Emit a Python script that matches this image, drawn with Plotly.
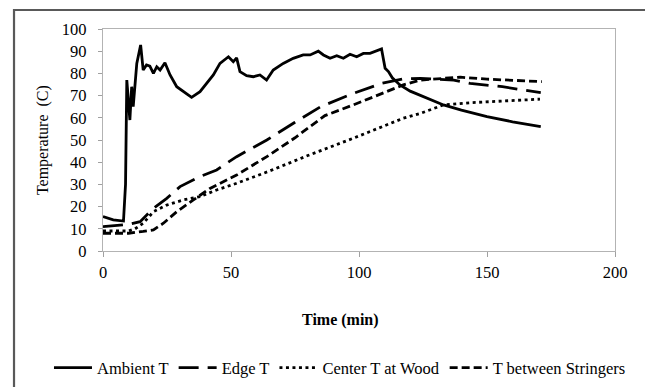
import plotly.graph_objects as go

# ---- data ----
amb_t = [0, 4, 8, 8.8, 9.3, 10.5, 11.2, 11.8, 13.2, 14.7, 15.7, 17, 18.3, 19.7, 21, 22.3, 24.2,
         26.2, 28.8, 31.4, 34.6, 37.9, 40.5, 43.1, 45.7, 49, 50.9, 52.2, 53.5, 56.1, 58.7, 61.3,
         63.9, 66.5, 70.4, 74.3, 78.2, 80.9, 84.1, 86.1, 88.7, 91.3, 93.9, 96.5, 99.1, 101.7,
         104.3, 106.9, 108.8, 110.2, 111.5, 113, 116, 120, 125, 133, 140, 150, 160, 171]
amb_v = [15.5, 14, 13.5, 30, 77, 59, 74, 65, 84.5, 92.8, 81.5, 83.8, 83.3, 80, 83, 81.5, 84.8,
         79.3, 74, 71.8, 69.2, 71.8, 75.5, 79.3, 84.5, 87.5, 85.3, 87, 80.8, 79, 78.5, 79.3,
         77, 81.5, 84.5, 86.8, 88.3, 88.3, 90, 88.3, 86.8, 88, 86.8, 88.6, 87.5, 89,
         89, 90, 91, 82.3, 80.8, 78, 74.8, 72, 69.5, 65.8, 63.5, 60.5, 58.2, 56]

edge_t = [0, 8, 10, 14.5, 19.7, 24.9, 30.1, 37.9, 44.4, 52.2, 64, 75, 85, 97.8, 108.8, 117,
          124, 137, 143.4, 156, 165.5, 171]
edge_v = [11, 11.8, 12, 13.2, 19.2, 23.7, 29, 33.5, 36.5, 42.5, 50, 58, 65, 71, 75.5, 77.5,
          77.8, 77, 75.5, 74, 72.5, 71.3]

center_t = [0, 10, 12.5, 15.7, 19.7, 24.9, 31.4, 37.9, 44.4, 52.2, 65, 80, 97.8, 110.8, 117.3,
            124, 133, 143.4, 156, 170.7]
center_v = [9, 9, 10, 12.5, 17.7, 20.7, 23, 24.5, 27.5, 30.5, 36, 43, 50.8, 56.8, 59.8,
            62, 65.8, 66.8, 67.6, 68.4]

str_t = [0, 10, 15.7, 19.7, 23.6, 28.8, 35.3, 41.8, 52.2, 64, 75, 86.7, 97.8, 110.8, 117.3,
         124, 139.6, 150, 171.4]
str_v = [8, 8, 8.8, 9.5, 12.5, 17.7, 23, 28.2, 34.2, 42.5, 51, 61, 65.8, 71.8, 74.8,
         77, 78.3, 77.4, 76.3]

x_ticks = [0, 50, 100, 150, 200]
y_ticks = list(range(0, 101, 10))

names = ["Ambient T", "Edge T", "Center T at Wood", "T between Stringers"]

FONT = "Liberation Serif"

fig = go.Figure()
fig.add_trace(go.Scatter(x=amb_t, y=amb_v, mode="lines", name=names[0],
                         line=dict(color="black", width=2.8)))
fig.add_trace(go.Scatter(x=edge_t, y=edge_v, mode="lines", name=names[1],
                         line=dict(color="black", width=2.8, dash="20px,9px")))
fig.add_trace(go.Scatter(x=center_t, y=center_v, mode="lines", name=names[2],
                         line=dict(color="black", width=2.8, dash="3px,3.5px")))
fig.add_trace(go.Scatter(x=str_t, y=str_v, mode="lines", name=names[3],
                         line=dict(color="black", width=2.8, dash="8px,4px")))

tickfont = dict(family=FONT, size=16.5, color="black")

fig.update_xaxes(range=[0, 200], tickvals=x_ticks, ticklen=5, ticklabelstandoff=1,
                 showgrid=False, zeroline=False, showline=True, mirror=True,
                 linecolor="#b3b3b3", linewidth=1.3, ticks="outside", tickcolor="#a0a0a0",
                 tickfont=tickfont)
fig.update_yaxes(range=[0, 100], tickvals=y_ticks, ticklen=4, ticklabelstandoff=8,
                 showgrid=False, zeroline=False, showline=True, mirror=True,
                 linecolor="#b3b3b3", linewidth=1.3, ticks="outside", tickcolor="#a0a0a0",
                 tickfont=tickfont)

# outer chart frame
FX0, FX1, FY0, FY1 = -0.1738, 1.0625, -0.63, 1.0856
frame = [dict(type="rect", xref="paper", yref="paper", x0=FX0, x1=FX1, y0=FY0, y1=FY1,
              line=dict(color="#595959", width=2.2), layer="below")]

# the page keeps its default 8px body margin, so the figure is laid out 8px up/left
fig.update_layout(
    width=653, height=387,
    margin=dict(l=95, r=46, t=21, b=144, autoexpand=False),
    paper_bgcolor="white", plot_bgcolor="white",
    font=dict(family=FONT, size=16, color="black"),
    showlegend=True,
    legend=dict(orientation="h", xanchor="left", yanchor="middle", x=-0.1055, y=-0.527,
                font=dict(family=FONT, size=16.5, color="black"), itemwidth=38,
                tracegroupgap=0, bgcolor="rgba(0,0,0,0)"),
    shapes=frame,
    annotations=[
        dict(text="Time (min)", xref="paper", yref="paper", x=0.463, y=-0.311,
             showarrow=False, xanchor="center", yanchor="middle",
             font=dict(family=FONT, size=16, color="black", weight="bold")),
        dict(text="Temperature  (C)", xref="paper", yref="paper", x=-0.117, y=0.5,
             showarrow=False, textangle=-90, xanchor="center", yanchor="middle",
             font=dict(family=FONT, size=16, color="black")),
    ],
)

fig.write_html("out.html", config={"displayModeBar": False})
